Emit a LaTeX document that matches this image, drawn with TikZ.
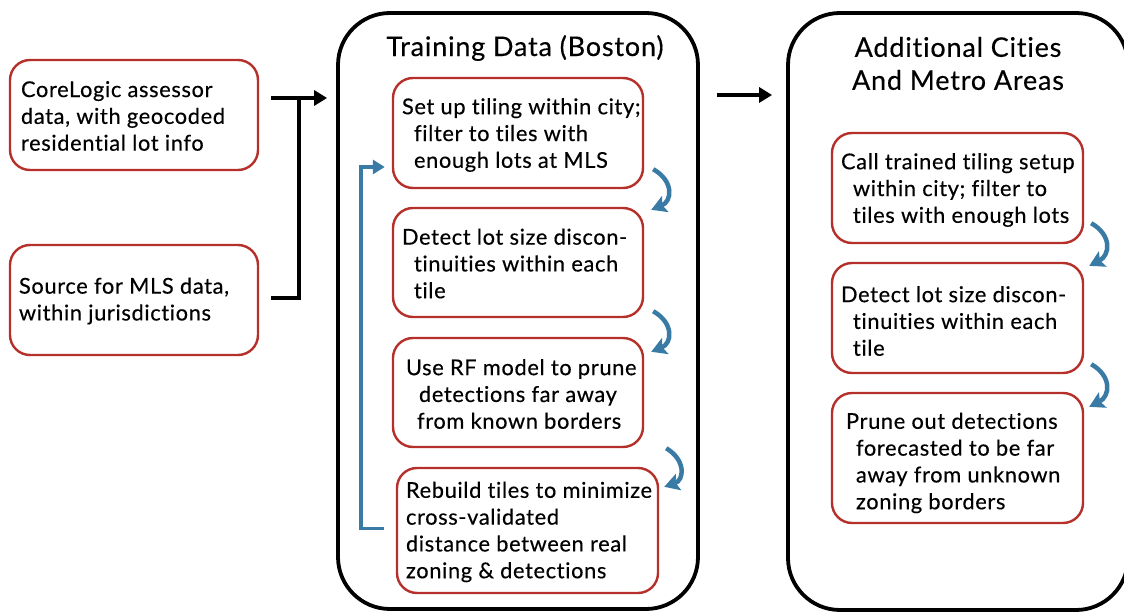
\documentclass[tikz,border=0pt]{standalone}
\usepackage{fontspec}
\setmainfont{Lato}[Ligatures=NoCommon,FakeBold=0.35,LetterSpace=3]
\usetikzlibrary{arrows.meta,calc}
\definecolor{boxred}{HTML}{B5302A}
\definecolor{flowblue}{HTML}{3A7BA6}
\begin{document}
\begin{tikzpicture}[x=1pt,y=-1pt,
  redbox/.style={draw=boxred,line width=2.4pt,rounded corners=20pt,fill=white,inner sep=0pt},
  bigbox/.style={draw=black,line width=3.8pt,rounded corners=52pt,inner sep=0pt},
  txt/.style={anchor=west,align=left,inner sep=0pt,font=\fontsize{21.8}{26.8}\selectfont},
  ttl/.style={align=center,inner sep=0pt,font=\fontsize{27}{33}\selectfont},
  blk/.style={draw=black,line width=3.8pt},
  blkarrow/.style={blk,-{Triangle[length=13pt,width=15pt]}},
  turn/.style={draw=flowblue,line width=4.5pt,-{Stealth[length=15pt,width=17pt,inset=3pt]}},
  loopback/.style={draw=flowblue,line width=3.6pt,-{Triangle[length=12pt,width=14pt]}}]
\useasboundingbox (0,0) rectangle (1124,612);

% outer groups
\node[bigbox,minimum width=360pt,minimum height=596pt] (mid) at (518,311) {};
\node[bigbox,minimum width=340pt,minimum height=597pt] (rgt) at (958,311.5) {};
\node[ttl] (midtitle) at (525,48) {Training Data (Boston)};
\node[ttl] (rgttitle) at (958,63.5) {Additional Cities\\And Metro Areas};

% input sources
\node[redbox,minimum width=248pt,minimum height=110pt] (l1) at (134,115) {};
\node[redbox,minimum width=248pt,minimum height=110pt] (l2) at (134,300) {};
\node[txt] (l1t) at ($(l1.west)+(12,1)$) {CoreLogic assessor\\data, with geocoded\\residential lot info};
\node[txt] (l2t) at ($(l2.west)+(10,1)$) {Source for MLS data,\\within jurisdictions};

% training steps
\node[redbox,minimum width=250pt,minimum height=110pt] (a) at (518,133) {};
\node[redbox,minimum width=250pt,minimum height=109pt] (b) at (518,262.5) {};
\node[redbox,minimum width=250pt,minimum height=109pt] (c) at (518,392.5) {};
\node[redbox,minimum width=261pt,minimum height=125pt] (d) at (527.5,530.5) {};
\node[txt] (at) at ($(a.west)+(10,2)$) {Set up tiling within city;\\\hspace*{12pt}filter to tiles with\\\hspace*{12pt}enough lots at MLS};
\node[txt] (bt) at ($(b.west)+(10,1)$) {Detect lot size discon-\\\hspace*{12pt}tinuities within each\\\hspace*{12pt}tile};
\node[txt] (ct) at ($(c.west)+(14,1.5)$) {Use RF model to prune\\\hspace*{13pt}detections far away\\\hspace*{11pt}from known borders};
\node[txt] (dt) at ($(d.west)+(10,1.5)$) {Rebuild tiles to minimize\\cross-validated\\distance between real\\zoning \& detections};

% application steps
\node[redbox,minimum width=251pt,minimum height=110pt] (e) at (957.5,188) {};
\node[redbox,minimum width=251pt,minimum height=110pt] (f) at (957.5,318) {};
\node[redbox,minimum width=251pt,minimum height=130pt] (g) at (957.5,458) {};
\node[txt] (et) at ($(e.west)+(10,2)$) {Call trained tiling setup\\\hspace*{12pt}within city; filter to\\\hspace*{12pt}tiles with enough lots};
\node[txt] (ft) at ($(f.west)+(10,3)$) {Detect lot size discon-\\\hspace*{12pt}tinuities within each\\\hspace*{12pt}tile};
\node[txt] (gt) at ($(g.west)+(15,5)$) {Prune out detections\\\hspace*{10pt}forecasted to be far\\\hspace*{10pt}away from unknown\\\hspace*{10pt}zoning borders};

% sources merge into the training stage
\coordinate (join) at ($(l1.east)+(40,-17)$);
\draw[blk] ($(l1.east)+(12,-17)$) -- (join);
\draw[blk] ($(l2.east)+(12,-2)$) -| (join);
\draw[blkarrow] (join) -- ($(mid.west |- join)+(-9,0)$);

% training feeds the other cities
\coordinate (hand) at ($(mid.east)+(17,-216)$);
\draw[blkarrow] (hand) -- ($(rgt.west |- hand)+(-14,0)$);

% step-to-step turns
\draw[turn] ($(a.south east)+(9,-20)$) .. controls ($(a.south east)+(30,-8)$) and ($(a.south east)+(28,12)$) .. ($(b.north east)+(7,3)$);
\draw[turn] ($(b.south east)+(9,-7)$) .. controls ($(b.south east)+(30,5)$) and ($(b.south east)+(28,25)$) .. ($(c.north east)+(7,15)$);
\draw[turn] ($(c.south east)+(22,0)$) .. controls ($(c.south east)+(42,12)$) and ($(c.south east)+(40,32)$) .. ($(d.north east)+(5,20)$);
\draw[turn] ($(e.south east)+(7,-21)$) .. controls ($(e.south east)+(28,-9)$) and ($(e.south east)+(26,11)$) .. ($(f.north east)+(5,4)$);
\draw[turn] ($(f.south east)+(7,-10)$) .. controls ($(f.south east)+(28,2)$) and ($(f.south east)+(26,22)$) .. ($(g.north east)+(5,15)$);

% feedback loop from rebuilding tiles back to tiling setup
\draw[loopback] ($(d.west)+(-12,-2)$) -- ++(-23,0) |- ($(a.west)+(-7,34)$);
\end{tikzpicture}
\end{document}
